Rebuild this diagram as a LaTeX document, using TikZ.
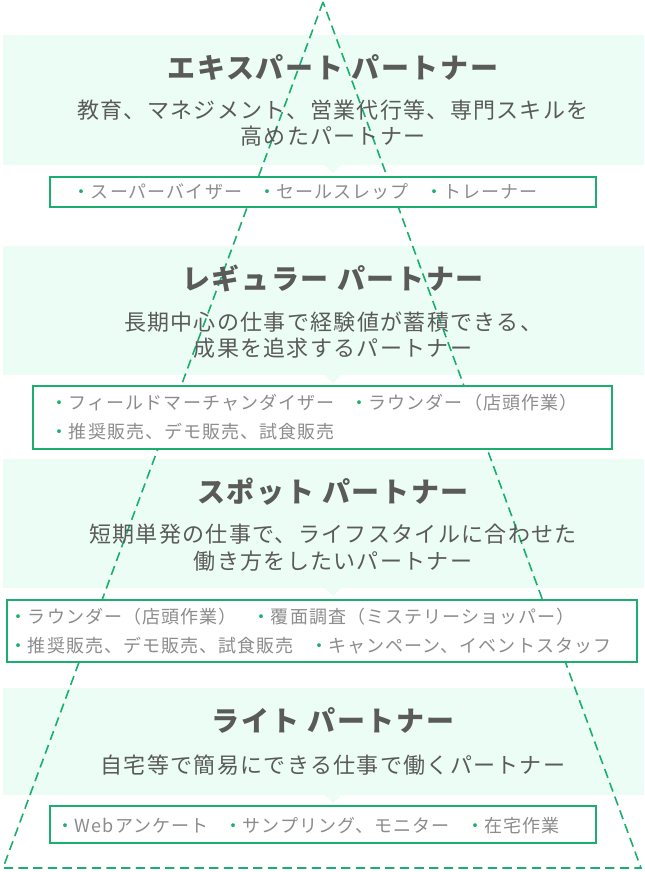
\documentclass[tikz,border=0pt]{standalone}
\usepackage{fontspec}
\setmainfont{Noto Sans CJK JP}
\definecolor{accent}{RGB}{26,175,110}
\definecolor{mint}{RGB}{236,253,245}
\definecolor{ink}{RGB}{90,90,90}
\definecolor{soft}{RGB}{140,140,140}
\newcommand{\itm}[1]{{\color{accent}・}#1}
\tikzset{every picture/.style={line width=0.75pt}}
\tikzset{
	band/.style={fill=mint, draw=none},
	title/.style={text=ink, font=\fontsize{21}{24}\selectfont\bfseries\addfontfeature{LetterSpace=6}},
	desc/.style={text=ink, align=center, font=\fontsize{16.5}{20}\selectfont\addfontfeature{LetterSpace=6}},
	jobs/.style={draw=accent, fill=white, line width=0.9pt},
	items/.style={text=soft, align=left, anchor=west, font=\fontsize{13.5}{22}\selectfont\addfontfeature{LetterSpace=6}},
}
\begin{document}
\begin{tikzpicture}[x=0.75pt,y=0.75pt,yscale=-1,xscale=1]
	\path[use as bounding box] (0,0) rectangle (644,872);

	%Bands
	\foreach \top/\bot in {35/165, 246/375, 459/588, 688/795}{
		\fill[mint] (3,\top) rectangle (644,\bot);
		\fill[mint] (325,\bot) -- (341,\bot) -- (333,\bot+8) -- cycle;
	}

	%Pyramid
	\coordinate (apex) at (323,2);
	\coordinate (baseL) at (3,868);
	\coordinate (baseR) at (641,868);
	\draw[accent, dashed, dash pattern={on 7pt off 4pt}, line width=1.2pt] (apex) -- (baseL) -- (baseR) -- cycle;

	%Job boxes
	\draw[jobs] (50,177) rectangle (596,207);
	\draw[jobs] (33,386) rectangle (612,449);
	\draw[jobs] (7,600) rectangle (637,662);
	\draw[jobs] (50,806) rectangle (596,843);

	% Text Node
	\node[title] (exp) at (333,68) {エキスパート パートナー};
	\node[desc] (expd) at (333,123) {教育、マネジメント、営業代行等、専門スキルを\\高めたパートナー};
	\node[items] (expj) at (68,192) {\itm{スーパーバイザー}\hspace{0.9em}\itm{セールスレップ}\hspace{0.9em}\itm{トレーナー}};

	% Text Node
	\node[title] (reg) at (333,278) {レギュラー パートナー};
	\node[desc] (regd) at (333,335) {長期中心の仕事で経験値が蓄積できる、\\成果を追求するパートナー};
	\node[items] (regj) at (46,417) {\itm{フィールドマーチャンダイザー}\hspace{0.9em}\itm{ラウンダー（店頭作業）}\\\itm{推奨販売、デモ販売、試食販売}};

	% Text Node
	\node[title] (spot) at (333,492) {スポット パートナー};
	\node[desc] (spotd) at (333,548) {短期単発の仕事で、ライフスタイルに合わせた\\働き方をしたいパートナー};
	\node[items] (spotj) at (5,631) {\itm{ラウンダー（店頭作業）}\hspace{0.9em}\itm{覆面調査（ミステリーショッパー）}\\\itm{推奨販売、デモ販売、試食販売}\hspace{0.9em}\itm{キャンペーン、イベントスタッフ}};

	% Text Node
	\node[title] (lite) at (333,720) {ライト パートナー};
	\node[desc] (lited) at (333,765) {自宅等で簡易にできる仕事で働くパートナー};
	\node[items] (litej) at (52,826) {\itm{Webアンケート}\hspace{0.9em}\itm{サンプリング、モニター}\hspace{0.9em}\itm{在宅作業}};

\end{tikzpicture}
\end{document}
